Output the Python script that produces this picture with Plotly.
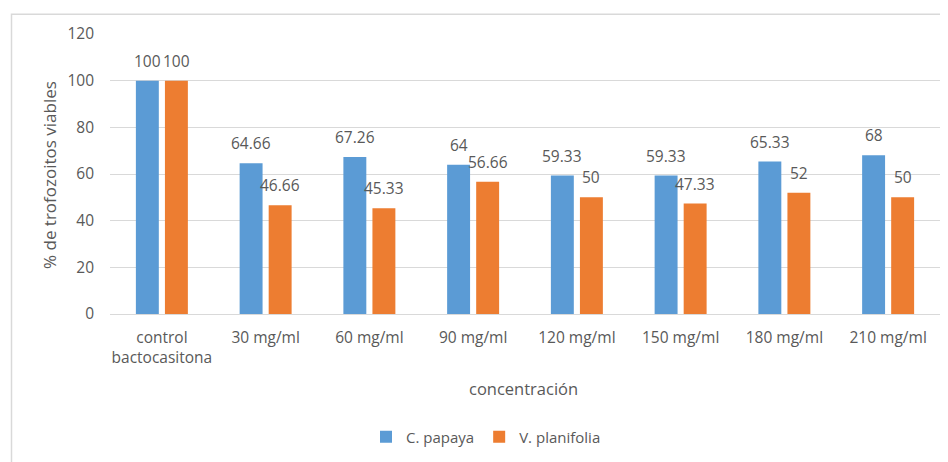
import plotly.graph_objects as go

categories = ["control<br>bactocasitona", "30 mg/ml", "60 mg/ml", "90 mg/ml",
              "120 mg/ml", "150 mg/ml", "180 mg/ml", "210 mg/ml"]
papaya = [100, 64.66, 67.26, 64, 59.33, 59.33, 65.33, 68]
planifolia = [100, 46.66, 45.33, 56.66, 50, 47.33, 52, 50]
papaya_labels = ["100", "64.66", "67.26", "64", "59.33", "59.33", "65.33", "68"]
planifolia_labels = ["100", "46.66", "45.33", "56.66", "50", "47.33", "52", "50"]

BLUE = "#5B9BD5"
ORANGE = "#ED7D31"
GRAY = "#595959"
GRID = "#D9D9D9"
FONT = "Open Sans, sans-serif"

# page body has an 8px margin
OFF = 8
W, H = 948 - OFF, 462 - OFF
PL, PR, PT, PB = 110, 940, 34, 316  # plot area in screen px
PW, PH = PR - PL, PB - PT


def px(xs):
    return (xs - PL) / PW


def py(ys):
    return (PB - ys) / PH


fig = go.Figure()
fig.add_trace(go.Bar(name="C. papaya", x=categories, y=papaya, marker_color=BLUE,
                     marker_line_width=0))
fig.add_trace(go.Bar(name="V. planifolia", x=categories, y=planifolia, marker_color=ORANGE,
                     marker_line_width=0))

LBL = dict(size=15.5, color=GRAY, family=FONT)
annotations = []
for i, c in enumerate(categories):
    annotations.append(dict(x=c, y=papaya[i], text=papaya_labels[i], showarrow=False,
                            xshift=-14.5, yshift=20, font=LBL))
    annotations.append(dict(x=c, y=planifolia[i], text=planifolia_labels[i], showarrow=False,
                            xshift=14.5, yshift=20, font=LBL))

annotations.append(dict(xref="paper", yref="paper", x=px(523), y=py(391),
                        xanchor="center", yanchor="middle",
                        text="concentración", showarrow=False,
                        font=dict(size=16.5, color=GRAY, family=FONT)))
annotations.append(dict(xref="paper", yref="paper", x=px(50), y=py(176),
                        xanchor="center", yanchor="middle",
                        text="% de trofozoitos viables", showarrow=False, textangle=-90,
                        font=dict(size=17, color=GRAY, family=FONT)))

fig.update_layout(
    width=W, height=H,
    margin=dict(l=PL - OFF, r=W - (PR - OFF), t=PT - OFF, b=H - (PB - OFF)),
    paper_bgcolor="white", plot_bgcolor="white",
    barmode="group", bargap=0.44, bargroupgap=0.21,
    font=dict(family=FONT, size=15.5, color=GRAY),
    annotations=annotations,
    legend=dict(orientation="h", x=px(486), xanchor="center",
                y=py(440), yanchor="middle", itemwidth=30,
                font=dict(size=15, color=GRAY, family=FONT)),
    shapes=[dict(type="rect", xref="paper", yref="paper",
                 x0=px(11.5), x1=1.2, y0=-2, y1=py(14),
                 line=dict(color=GRID, width=1.5), layer="below")],
)
fig.update_yaxes(range=[0, 120], dtick=20, gridcolor=GRID, gridwidth=1,
                 zeroline=False, showline=False, ticklabelstandoff=15,
                 tickfont=dict(size=15.5, color=GRAY))
fig.update_xaxes(showline=True, linecolor=GRID, linewidth=1, ticks="",
                 ticklabelstandoff=9, tickfont=dict(size=15.5, color=GRAY))

fig.write_html("out.html")
